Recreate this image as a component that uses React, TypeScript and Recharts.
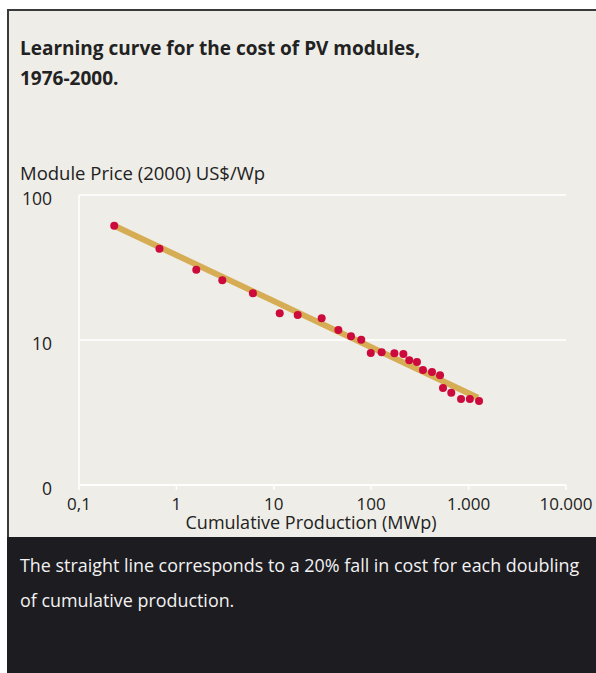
import { ScatterChart, Scatter, XAxis, YAxis, CartesianGrid } from 'recharts';

// cumulative production (MWp) and module price (2000 US$/Wp), 1976-2000
const productionMWp = [0.23, 0.67, 1.6, 2.96, 6.1, 11.5, 17.6, 31, 46, 62, 79, 99, 128, 173, 214, 246, 295, 340, 421, 509, 546, 664, 836, 1030, 1280];
const priceUSD = [61.4, 42.6, 30.5, 25.8, 21.0, 15.3, 14.9, 14.1, 11.7, 10.6, 10.05, 8.13, 8.23, 8.09, 8.0, 7.24, 7.05, 6.21, 6.02, 5.71, 4.67, 4.33, 3.92, 3.92, 3.8];

// fitted learning curve (20% per doubling), start and end
const fitX = [0.23, 1250];
const fitY = [61.4, 4.0];

const xTicks = [0.1, 1, 10, 100, 1000, 10000];
const xTickLabels = ['0,1', '1', '10', '100', '1.000', '10.000'];
const yTicks = [1, 10, 100];
const yTickLabels = ['0', '10', '100'];

const points = productionMWp.map((x, i) => ({ x, y: priceUSD[i] }));
const fit = fitX.map((x, i) => ({ x, y: fitY[i] }));

const font = '"Open Sans", "Noto Sans", sans-serif';

const Dot = (props: any) => <circle cx={props.cx} cy={props.cy} r={4} fill="#cc0a3c" />;

export default function App() {
  return (
    <div style={{ position: 'absolute', left: 0, top: 0, width: 596, height: 673, background: '#fff', fontFamily: font, overflow: 'hidden' }}>
      <div style={{ position: 'absolute', left: 7, top: 9, width: 589, height: 528, background: '#eeede7', borderLeft: '2px solid #3a3a3a', borderTop: '2px solid #3a3a3a', boxSizing: 'border-box' }} />
      <div style={{ position: 'absolute', left: 20, top: 33, fontSize: 19, fontWeight: 700, lineHeight: '30px', color: '#222' }}>
        Learning curve for the cost of PV modules,<br />1976-2000.
      </div>
      <div style={{ position: 'absolute', left: 20, top: 161, fontSize: 18.5, lineHeight: '24px', color: '#222', whiteSpace: 'nowrap' }}>
        Module Price (2000) US$/Wp
      </div>

      <div style={{ position: 'absolute', left: 0, top: 180 }}>
        <ScatterChart width={596} height={345} margin={{ top: 15, right: 30, bottom: 0, left: 0 }}>
          <CartesianGrid vertical={false} stroke="#ffffff" strokeWidth={1.5} />
          <XAxis
            type="number"
            dataKey="x"
            scale="log"
            domain={[0.1, 10000]}
            ticks={xTicks}
            tickFormatter={(v: number) => xTickLabels[xTicks.indexOf(v)] ?? ''}
            allowDataOverflow
            height={40}
            axisLine={{ stroke: '#ffffff', strokeWidth: 1.5 }}
            tickLine={{ stroke: '#ffffff', strokeWidth: 1.5 }}
            tickSize={5}
            tickMargin={8}
            tick={{ fill: '#222', fontSize: 17, fontFamily: font }}
            interval={0}
          />
          <YAxis
            type="number"
            dataKey="y"
            scale="log"
            domain={[1, 100]}
            ticks={yTicks}
            tickFormatter={(v: number) => yTickLabels[yTicks.indexOf(v)] ?? ''}
            allowDataOverflow
            width={79}
            axisLine={{ stroke: '#ffffff', strokeWidth: 1.5 }}
            tickLine={false}
            tickSize={0}
            tickMargin={27}
            tick={{ fill: '#222', fontSize: 17.5, fontFamily: font, dy: 4 }}
            interval={0}
          />
          <Scatter data={fit} line={{ stroke: '#d6ad55', strokeWidth: 6 }} shape={() => <g />} isAnimationActive={false} />
          <Scatter data={points} shape={Dot} isAnimationActive={false} />
        </ScatterChart>
      </div>

      <div style={{ position: 'absolute', left: 0, width: 622, top: 511, textAlign: 'center', fontSize: 18, lineHeight: '22px', color: '#222' }}>
        Cumulative Production (MWp)
      </div>

      <div style={{ position: 'absolute', left: 7, top: 537, width: 589, height: 136, background: '#1d1c21' }} />
      <div style={{ position: 'absolute', left: 20, top: 548, width: 576, fontSize: 17.9, lineHeight: '35px', color: '#f2f2f2', whiteSpace: 'nowrap' }}>
        The straight line corresponds to a 20% fall in cost for each doubling<br />of cumulative production.
      </div>
    </div>
  );
}
